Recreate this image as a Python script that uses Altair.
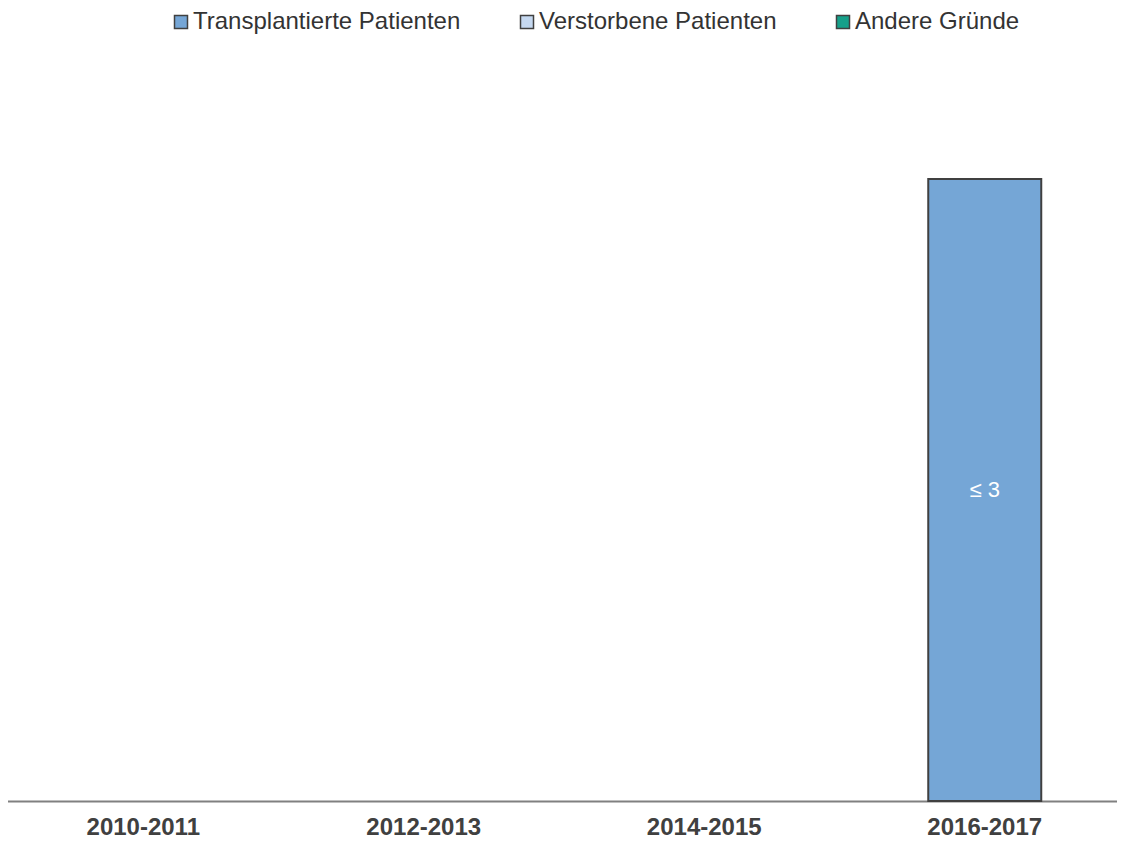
import altair as alt
import pandas as pd

periods = ["2010-2011", "2012-2013", "2014-2015", "2016-2017"]
transplantiert = [0, 0, 0, 3]
verstorben = [0, 0, 0, 0]
andere = [0, 0, 0, 0]
bar_labels = ["", "", "", "≤ 3"]
series_names = ["Transplantierte Patienten", "Verstorbene Patienten", "Andere Gründe"]
series_colors = ["#75A6D6", "#C6D9F1", "#16A08A"]

rows = []
for i, p in enumerate(periods):
    for k, (name, vals) in enumerate(zip(series_names, [transplantiert, verstorben, andere])):
        rows.append({
            "Zeitraum": p,
            "Serie": name,
            "Ordnung": k,
            "Wert": vals[i],
            "Label": bar_labels[i] if k == 0 else "",
        })
df = pd.DataFrame(rows)

FONT = "Liberation Sans"

x_scale = alt.Scale(domain=periods, paddingInner=0, paddingOuter=0, range=[-5, 1117])
x_enc = alt.X(
    "Zeitraum:N",
    sort=periods,
    scale=x_scale,
    axis=alt.Axis(
        title=None, labelAngle=0, ticks=False, labelFont=FONT, labelFontSize=24,
        labelFontWeight="bold", labelColor="#404040", labelPadding=14,
        domainColor="#808080", domainWidth=2, grid=False,
    ),
)
y_scale = alt.Scale(domain=[0, 3], nice=False, zero=True)

base = alt.Chart(df)

bars = base.transform_filter("datum.Wert > 0").mark_bar(
    size=113, stroke="#404040", strokeWidth=2
).encode(
    x=x_enc,
    y=alt.Y("Wert:Q", stack="zero", scale=y_scale, axis=None),
    color=alt.Color(
        "Serie:N",
        scale=alt.Scale(domain=series_names, range=series_colors),
        legend=alt.Legend(
            title=None, orient="none", direction="horizontal",
            legendX=161, legendY=-169, columns=3, columnPadding=54,
            labelFont=FONT, labelFontSize=24, labelColor="#333333", labelLimit=0,
            labelOffset=0, symbolType="square", symbolSize=169,
            symbolStrokeColor="#404040", symbolStrokeWidth=1.5,
        ),
    ),
    order=alt.Order("Ordnung:Q"),
)

texts = base.transform_filter("datum.Label != ''").transform_calculate(
    mitte="datum.Wert / 2"
).mark_text(font=FONT, fontSize=22, color="white").encode(
    x=alt.X("Zeitraum:N", sort=periods, scale=x_scale),
    y=alt.Y("mitte:Q", scale=y_scale),
    text="Label:N",
)

chart = alt.layer(bars, texts).properties(
    width=1109, height=622,
    background="white",
    autosize=alt.AutoSizeParams(type="none"),
    padding={"left": 0, "top": 171, "right": 0, "bottom": 38},
).configure_view(strokeWidth=0, stroke=None)

chart.save("out.html", embed_options={"renderer": "svg", "actions": False})
